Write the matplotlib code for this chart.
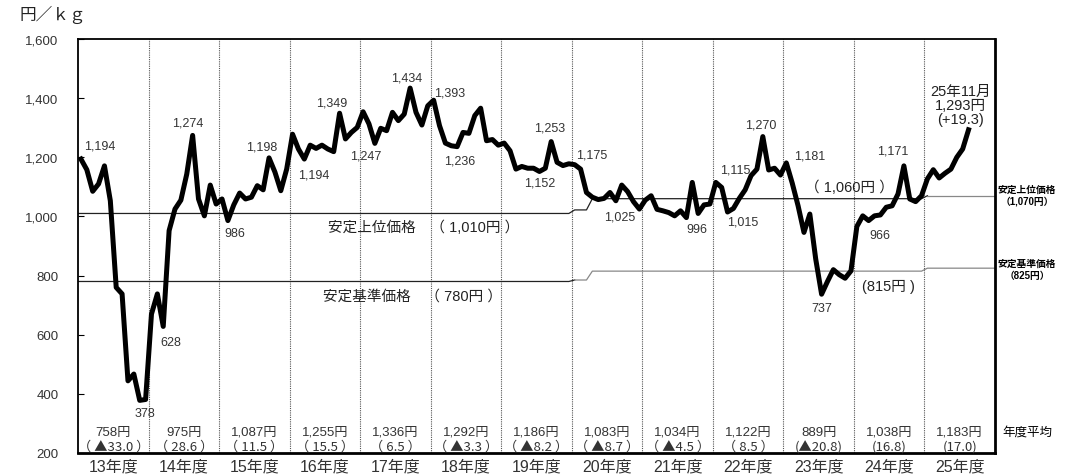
import numpy as np
import matplotlib.pyplot as plt
from matplotlib.ticker import FuncFormatter

plt.rcParams['font.family'] = ['Liberation Sans', 'Noto Sans CJK JP']

# =========================
# DATA (円/kg, monthly, Apr..Mar per fiscal year)
# =========================

years = ["13年度", "14年度", "15年度", "16年度", "17年度", "18年度", "19年度",
         "20年度", "21年度", "22年度", "23年度", "24年度", "25年度"]

price_13 = [1194, 1158, 1085, 1110, 1171, 1053, 760, 738, 444, 467, 378, 381]
price_14 = [670, 738, 628, 952, 1025, 1055, 1143, 1274, 1059, 1002, 1106, 1042]
price_15 = [1059, 986, 1039, 1079, 1059, 1065, 1104, 1090, 1198, 1150, 1087, 1160]
price_16 = [1278, 1228, 1194, 1241, 1230, 1241, 1228, 1219, 1349, 1262, 1284, 1301]
price_17 = [1354, 1313, 1247, 1298, 1290, 1352, 1324, 1346, 1434, 1352, 1309, 1374]
price_18 = [1393, 1307, 1248, 1239, 1236, 1284, 1281, 1341, 1366, 1256, 1260, 1241]
price_19 = [1248, 1222, 1160, 1169, 1163, 1163, 1152, 1163, 1253, 1183, 1172, 1178]
price_20 = [1175, 1160, 1081, 1065, 1057, 1061, 1081, 1053, 1106, 1084, 1050, 1025]
price_21 = [1055, 1070, 1024, 1019, 1013, 1002, 1019, 996, 1115, 1010, 1039, 1042]
price_22 = [1115, 1098, 1015, 1027, 1061, 1090, 1138, 1160, 1270, 1157, 1163, 1140]
price_23 = [1181, 1113, 1036, 946, 1008, 856, 737, 780, 820, 803, 791, 816]
price_24 = [966, 1002, 986, 1002, 1005, 1031, 1036, 1076, 1171, 1059, 1050, 1070]
price_25 = [1127, 1158, 1130, 1146, 1160, 1200, 1228, 1293]

# yearly average and change vs previous year
avg_price = ["758円", "975円", "1,087円", "1,255円", "1,336円", "1,292円", "1,186円",
             "1,083円", "1,034円", "1,122円", "889円", "1,038円", "1,183円"]
avg_change = ["（ ▲33.0 ）", "（ 28.6 ）", "（ 11.5 ）", "（ 15.5 ）", "（ 6.5 ）",
              "（ ▲3.3 ）", "（ ▲8.2 ）", "（ ▲8.7 ）", "（ ▲4.5 ）", "（ 8.5 ）",
              "(▲20.8)", "(16.8)", "(17.0)"]

# stabilisation price bands: (price, number of months)
upper_steps = [(1010, 84), (1022, 3), (1060, 57), (1070, 12)]
lower_steps = [(780, 84), (785, 3), (815, 57), (825, 12)]

# labelled points: month index, text
label_idx = [10, 0, 14, 19, 25, 32, 38, 44, 50, 56, 60, 64, 78, 80, 84, 95,
             103, 108, 110, 116, 120, 126, 132, 140]
label_txt = ["378", "1,194", "628", "1,274", "986", "1,198", "1,194", "1,349", "1,247",
             "1,434", "1,393", "1,236", "1,152", "1,253", "1,175", "1,025", "996",
             "1,115", "1,015", "1,270", "1,181", "737", "966", "1,171"]
# label offsets in pixels (dx, dy down)
label_off = [(5, 13), (19, -14), (8, 16), (-5, -13), (7, 12), (-7, -11), (9, 15),
             (-8, -11), (-9, 12), (-3, -11), (16, -8), (3, 14), (0, 11), (-2, -14),
             (17, -10), (-20, 7), (10, 11), (19, -13), (15, 10), (-2, -12), (23, -7),
             (0, 14), (23, 9), (-11, -15)]

# =========================
# BUILD SERIES
# =========================

prices = (price_13 + price_14 + price_15 + price_16 + price_17 + price_18 + price_19
          + price_20 + price_21 + price_22 + price_23 + price_24 + price_25)
x = np.arange(len(prices)) + 0.5
n_months = 12 * len(years)


def expand(steps):
    vals = []
    for v, n in steps:
        vals += [v] * n
    xs = np.concatenate([[0], np.arange(len(vals)) + 0.5, [n_months]])
    ys = np.concatenate([[vals[0]], vals, [vals[-1]]])
    return xs, ys


ux, uy = expand(upper_steps)
lx, ly = expand(lower_steps)

# =========================
# PLOT
# =========================

W, H = 1077, 477
fig = plt.figure(figsize=(W / 100, H / 100), dpi=100)
ax = fig.add_axes([78 / W, 23 / H, 917 / W, 414 / H])

ax.set_xlim(0, n_months)
ax.set_ylim(200, 1600)

txt_col = "#333333"
cjk_first = ['Noto Sans CJK JP', 'Liberation Sans']

# year separators
for k in range(1, len(years)):
    ax.axvline(12 * k, color="#555555", lw=0.8, ls=(0, (1, 1)), zorder=1)

# price band lines (black for the old bands, gray after the change)
cut_u = 144 + 1
ax.plot(ux[:cut_u + 1], uy[:cut_u + 1], color="#222222", lw=0.9, zorder=2)
ax.plot(ux[cut_u:], uy[cut_u:], color="#888888", lw=0.9, zorder=2)
cut_l = 84 + 1
ax.plot(lx[:cut_l + 1], ly[:cut_l + 1], color="#222222", lw=0.9, zorder=2)
ax.plot(lx[cut_l:], ly[cut_l:], color="#888888", lw=0.9, zorder=2)

# price line
ax.plot(x, prices, color="black", lw=3.6, solid_joinstyle="round", zorder=3)

# data labels
for i, t, (dx, dy) in zip(label_idx, label_txt, label_off):
    ax.annotate(t, (x[i], prices[i]), xytext=(dx * 0.72, -dy * 0.72),
                textcoords="offset points", ha="center", va="center",
                fontsize=9, color=txt_col)

ax.annotate("25年11月\n1,293円\n(+19.3)", (x[-1], prices[-1]), xytext=(-8 * 0.72, 4 * 0.72),
            textcoords="offset points", ha="center", va="bottom", fontsize=10.5,
            linespacing=1.0, color="#222222")

# band texts
ax.text(42.5, 964, "安定上位価格　（ 1,010円 ）", fontsize=10.5, va="center", ha="left",
        color="#222222")
ax.text(41.7, 731, "安定基準価格　（ 780円 ）", fontsize=10.5, va="center", ha="left",
        color="#222222")
ax.text(131.3, 1099, "（ 1,060円 ）", fontsize=10.5, va="center", ha="center",
        color="#222222")
ax.text(137.8, 765, "(815円 )", fontsize=10.5, va="center", ha="center", color="#222222")

# yearly averages
for k in range(len(years)):
    ax.text(12 * k + 6, 272, avg_price[k], ha="center", va="center", fontsize=9.5,
            color=txt_col)
    ax.text(12 * k + 6, 222, avg_change[k], ha="center", va="center", fontsize=9.5,
            color=txt_col, family=cjk_first)

# axes styling
ax.set_yticks(np.arange(200, 1601, 200))
ax.yaxis.set_major_formatter(FuncFormatter(lambda v, p: f"{int(v):,}"))
ax.tick_params(axis="y", direction="in", length=4, width=0.8, pad=14, labelsize=9.5,
               labelcolor=txt_col)
ax.set_xticks(np.arange(len(years)) * 12 + 6)
ax.set_xticklabels(years, fontsize=11.5, color=txt_col)
ax.tick_params(axis="x", length=0, pad=4)
for s in ["left", "top"]:
    ax.spines[s].set_linewidth(1.3)
for s in ["right", "bottom"]:
    ax.spines[s].set_linewidth(2.0)

# outside texts
fig.text(20 / W, 1 - 15 / H, "円／ｋｇ", fontsize=12, ha="left", va="center",
         family=cjk_first, color="#222222")
fig.text(1002 / W, 1 - 433 / H, "年度平均", fontsize=9, ha="left", va="center")
fig.text(1027 / W, 1 - 190 / H, "安定上位価格", fontsize=7, ha="center", va="center",
         weight="bold")
fig.text(1027 / W, 1 - 202 / H, "（1,070円）", fontsize=7, ha="center", va="center",
         weight="bold")
fig.text(1027 / W, 1 - 264 / H, "安定基準価格", fontsize=7, ha="center", va="center",
         weight="bold")
fig.text(1027 / W, 1 - 276 / H, "（825円）", fontsize=7, ha="center", va="center",
         weight="bold")

fig.savefig("out.png", dpi=100)
